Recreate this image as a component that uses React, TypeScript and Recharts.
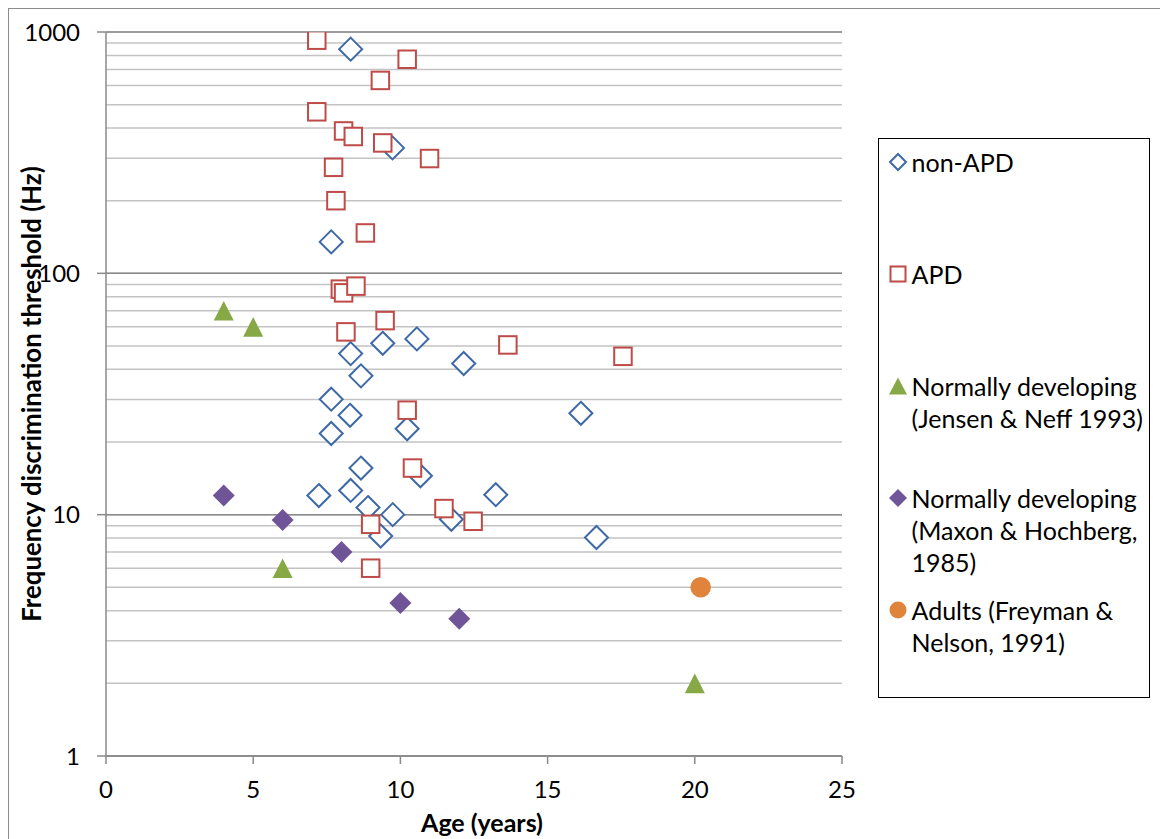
import React from "react";
import {
  ScatterChart,
  Scatter,
  XAxis,
  YAxis,
  CartesianGrid,
  Legend,
  Label,
} from "recharts";

// ages (years) and thresholds (Hz)
const NON_APD_AGE = [8.31, 9.73, 7.65, 9.4, 10.56, 8.31, 12.15, 8.66, 7.65, 8.29, 7.65, 10.23, 16.13, 8.66, 10.68, 7.23, 8.31, 13.24, 8.9, 9.74, 11.73, 9.33, 16.66];
const NON_APD_HZ = [849, 331, 135, 51.3, 53.5, 46.5, 42.3, 37.6, 30.1, 25.8, 21.7, 22.7, 26.3, 15.6, 14.5, 12.0, 12.6, 12.1, 10.7, 10.0, 9.57, 8.16, 8.04];

const APD_AGE = [7.16, 10.23, 9.32, 7.16, 8.07, 8.4, 9.4, 10.99, 7.73, 7.81, 8.81, 7.96, 8.07, 8.49, 9.48, 8.15, 13.65, 17.56, 10.23, 10.41, 11.48, 12.47, 8.99, 8.99];
const APD_HZ = [925, 771, 630, 467, 389, 369, 347, 299, 275, 200, 147, 86, 83, 88.5, 63.7, 57.2, 50.5, 45.3, 27.1, 15.6, 10.6, 9.39, 9.12, 6.0];

const JENSEN_AGE = [4, 5, 6, 20];
const JENSEN_HZ = [70, 60, 6, 2];

const MAXON_AGE = [4, 6, 8, 10, 12];
const MAXON_HZ = [12, 9.5, 7, 4.3, 3.7];

const ADULT_AGE = [20.2];
const ADULT_HZ = [5];

const X_TICKS = [0, 5, 10, 15, 20, 25];
const Y_TICKS = [1, 10, 100, 1000];
// every 1..9 x 10^k line for the minor grid
const Y_MINOR = [1, 10, 100].flatMap((d) => [1, 2, 3, 4, 5, 6, 7, 8, 9].map((m) => m * d)).concat([1000]);

const SERIES_NAMES = [
  "non-APD",
  "APD",
  "Normally developing (Jensen & Neff 1993)",
  "Normally developing (Maxon & Hochberg, 1985)",
  "Adults (Freyman & Nelson, 1991)",
];
const LEGEND_LINES = [
  ["non-APD"],
  ["APD"],
  ["Normally developing", "(Jensen & Neff 1993)"],
  ["Normally developing", "(Maxon & Hochberg,", "1985)"],
  ["Adults (Freyman &", "Nelson, 1991)"],
];

const BLUE = "#3D69A6";
const RED = "#BE4B48";
const GREEN = "#86A845";
const PURPLE = "#6F5598";
const ORANGE = "#E0843C";

const FONT = "Lato, 'Open Sans', sans-serif";

const toPoints = (xs: number[], ys: number[]) => xs.map((x, i) => ({ x, y: ys[i] }));

type Kind = "openDiamond" | "openSquare" | "triangle" | "diamond" | "circle";

function Marker({ kind, cx, cy, legend }: { kind: Kind; cx: number; cy: number; legend?: boolean }) {
  if (kind === "openDiamond") {
    const r = legend ? 8 : 11.5;
    return (
      <path
        d={`M${cx},${cy - r}L${cx + r},${cy}L${cx},${cy + r}L${cx - r},${cy}Z`}
        fill="#fff"
        stroke={BLUE}
        strokeWidth={2}
      />
    );
  }
  if (kind === "openSquare") {
    const h = legend ? 7.5 : 8.75;
    return <rect x={cx - h} y={cy - h} width={2 * h} height={2 * h} fill="#fff" stroke={RED} strokeWidth={2} />;
  }
  if (kind === "triangle") {
    const w = legend ? 9 : 10;
    const h = legend ? 8.5 : 9.8;
    return <path d={`M${cx},${cy - h}L${cx + w},${cy + h}L${cx - w},${cy + h}Z`} fill={GREEN} />;
  }
  if (kind === "diamond") {
    const r = legend ? 9 : 11;
    return <path d={`M${cx},${cy - r}L${cx + r},${cy}L${cx},${cy + r}L${cx - r},${cy}Z`} fill={PURPLE} />;
  }
  const r = legend ? 8.5 : 10.3;
  return <circle cx={cx} cy={cy} r={r} fill={ORANGE} />;
}

const KINDS: Kind[] = ["openDiamond", "openSquare", "triangle", "diamond", "circle"];

const shapeOf = (kind: Kind) => (props: any) => <Marker kind={kind} cx={props.cx} cy={props.cy} />;

function LegendBox() {
  return (
    <div
      style={{
        position: "relative",
        width: 272,
        height: 560,
        boxSizing: "border-box",
        border: "1.5px solid #000",
        background: "#fff",
        fontFamily: FONT,
        fontSize: 25,
        color: "#000",
      }}
    >
      {LEGEND_LINES.map((lines, i) => (
        <div key={SERIES_NAMES[i]} style={{ position: "absolute", left: 0, top: 6.5 + 112 * i, width: 270 }}>
          <svg width={24} height={32} style={{ position: "absolute", left: 6.5, top: 0 }}>
            <Marker kind={KINDS[i]} cx={12} cy={16} legend />
          </svg>
          <div style={{ position: "absolute", left: 32.5, top: 0, lineHeight: "32px", whiteSpace: "nowrap" }}>
            {lines.map((l) => (
              <div key={l}>{l}</div>
            ))}
          </div>
        </div>
      ))}
    </div>
  );
}

export default function App() {
  return (
    <div
      style={{
        position: "fixed",
        left: 8,
        top: 8,
        width: 1152,
        height: 831,
        boxSizing: "border-box",
        borderTop: "1px solid #8C8C8C",
        borderLeft: "1px solid #8C8C8C",
        background: "#fff",
        fontFamily: FONT,
      }}
    >
      <ScatterChart width={1151} height={830} margin={{ top: 23, right: 318, bottom: 0, left: 0 }}>
        <YAxis yAxisId="minor" type="number" dataKey="y" scale="log" domain={[1, 1000]} ticks={Y_MINOR} interval={0} allowDataOverflow hide />
        <CartesianGrid yAxisId="minor" vertical={false} stroke="#C3C3C3" strokeWidth={1.5} />
        <CartesianGrid vertical={false} stroke="#8A8A8A" strokeWidth={1.5} />
        <XAxis
          type="number"
          dataKey="x"
          domain={[0, 25]}
          ticks={X_TICKS}
          interval={0}
          height={83}
          tickSize={8}
          tickMargin={17}
          axisLine={{ stroke: "#8A8A8A", strokeWidth: 1.5 }}
          tickLine={{ stroke: "#8A8A8A", strokeWidth: 1.5 }}
          tick={{ fontSize: 24, fill: "#000" }}
        >
          <Label
            content={(p: any) => {
              const vb = p.viewBox;
              return (
                <text x={vb.x + vb.width / 2 + 8} y={813} textAnchor="middle" dominantBaseline="central" fontSize={25} fontWeight="bold" fill="#000">
                  Age (years)
                </text>
              );
            }}
          />
        </XAxis>
        <YAxis
          type="number"
          dataKey="y"
          scale="log"
          domain={[1, 1000]}
          ticks={Y_TICKS}
          interval={0}
          allowDataOverflow
          width={97}
          tickSize={9}
          tickMargin={17}
          axisLine={{ stroke: "#8A8A8A", strokeWidth: 1.5 }}
          tickLine={{ stroke: "#8A8A8A", strokeWidth: 1.5 }}
          tick={{ fontSize: 24, fill: "#000" }}
        >
          <Label
            content={(p: any) => {
              const vb = p.viewBox;
              const cx = 22;
              const cy = vb.y + vb.height / 2;
              return (
                <text
                  x={cx}
                  y={cy}
                  transform={`rotate(-90 ${cx} ${cy})`}
                  textAnchor="middle"
                  dominantBaseline="central"
                  fontSize={25.8}
                  fontWeight="bold"
                  fill="#000"
                >
                  Frequency discrimination threshold (Hz)
                </text>
              );
            }}
          />
        </YAxis>
        <Scatter name={SERIES_NAMES[0]} data={toPoints(NON_APD_AGE, NON_APD_HZ)} shape={shapeOf("openDiamond")} isAnimationActive={false} />
        <Scatter name={SERIES_NAMES[1]} data={toPoints(APD_AGE, APD_HZ)} shape={shapeOf("openSquare")} isAnimationActive={false} />
        <Scatter name={SERIES_NAMES[2]} data={toPoints(JENSEN_AGE, JENSEN_HZ)} shape={shapeOf("triangle")} isAnimationActive={false} />
        <Scatter name={SERIES_NAMES[3]} data={toPoints(MAXON_AGE, MAXON_HZ)} shape={shapeOf("diamond")} isAnimationActive={false} />
        <Scatter name={SERIES_NAMES[4]} data={toPoints(ADULT_AGE, ADULT_HZ)} shape={shapeOf("circle")} isAnimationActive={false} />
        <Legend
          layout="vertical"
          align="center"
          verticalAlign="middle"
          content={() => <LegendBox />}
          wrapperStyle={{ left: 869, top: 129, width: 272, height: 560 }}
        />
      </ScatterChart>
    </div>
  );
}
